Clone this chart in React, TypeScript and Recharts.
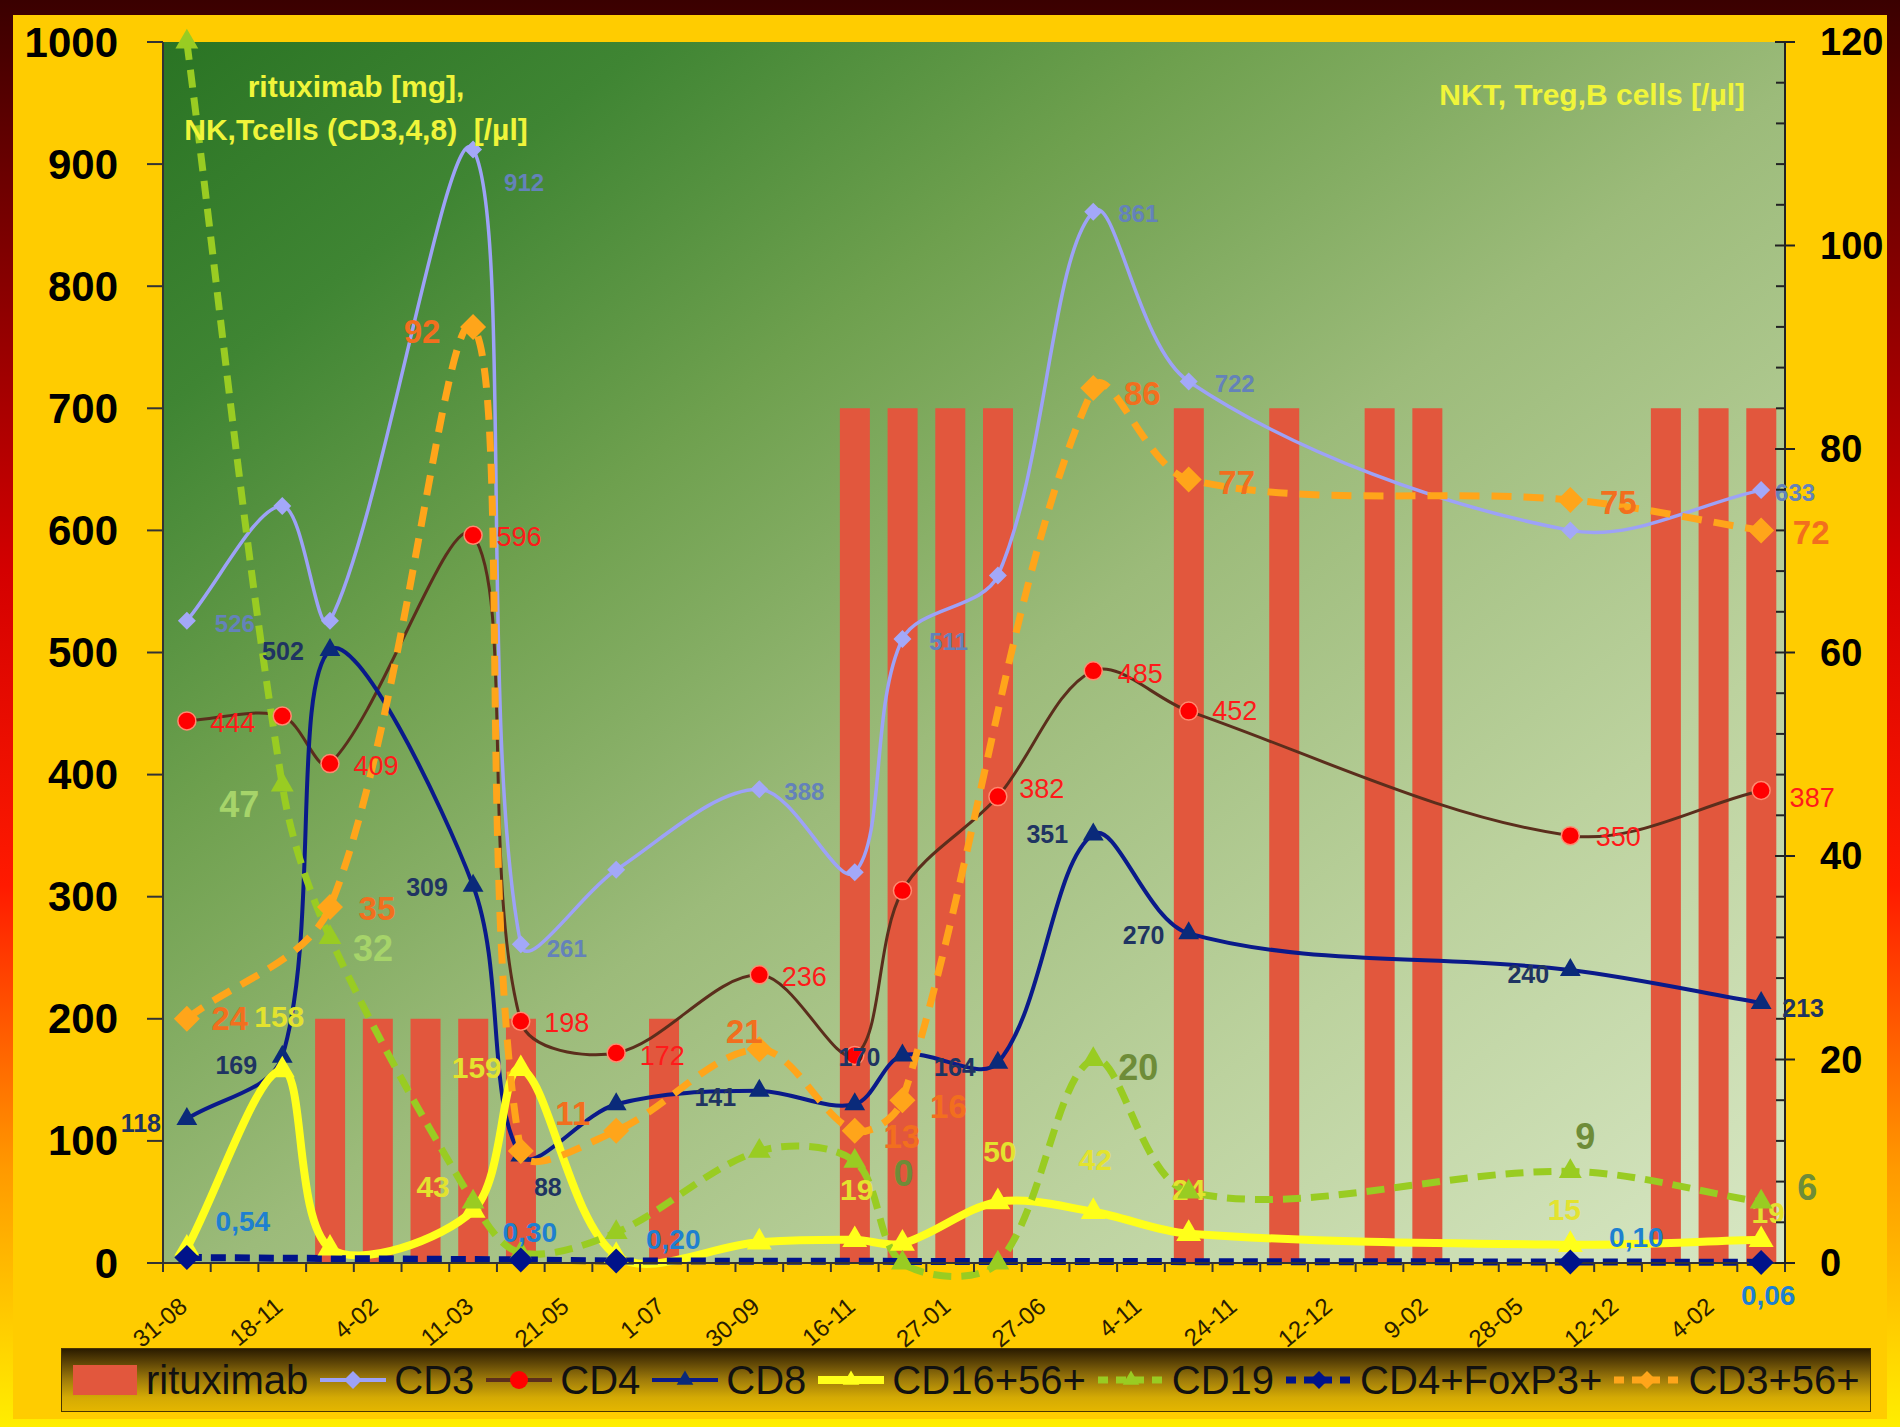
import React from 'react';
import { ComposedChart, Bar, Line, XAxis, YAxis, CartesianGrid } from 'recharts';

const N = null;

// 34 sampling slots; dates shown on every other slot
const dates = ['31-08', '', '18-11', '', '4-02', '', '11-03', '', '21-05', '', '1-07', '', '30-09', '', '16-11', '', '27-01', '', '27-06', '', '4-11', '', '24-11', '', '12-12', '', '9-02', '', '28-05', '', '12-12', '', '4-02', ''];

const rituximab = [N, N, N, 200, 200, 200, 200, 200, N, N, 200, N, N, N, 700, 700, 700, 700, N, N, N, 700, N, 700, N, 700, 700, N, N, N, N, 700, 700, 700];
const cd3 = [526, N, 620, 526, N, N, 912, 261, N, 322, N, N, 388, N, 320, 511, N, 563, N, 861, N, 722, N, N, N, N, N, N, N, 600, N, N, N, 633];
const cd4 = [444, N, 448, 409, N, N, 596, 198, N, 172, N, N, 236, N, 170, 305, N, 382, N, 485, N, 452, N, N, N, N, N, N, N, 350, N, N, N, 387];
const cd8 = [118, N, 169, 502, N, N, 309, 88, N, 130, N, N, 141, N, 130, 170, N, 164, N, 351, N, 270, N, N, N, N, N, N, N, 240, N, N, N, 213];
const cd16 = [12, N, 158, 12, N, N, 43, 159, N, 6, N, N, 17, N, 19, 16, N, 50, N, 42, N, 24, N, N, N, N, N, N, N, 15, N, N, N, 19];
const cd19 = [120, N, 47, 32, N, N, 6, 1, N, 3, N, N, 11, N, 10, 0, N, 0, N, 20, N, 7, N, N, N, N, N, N, N, 9, N, N, N, 6];
const foxp3 = [0.54, N, N, N, N, N, N, 0.3, N, 0.2, N, N, N, N, N, N, N, N, N, N, N, N, N, N, N, N, N, N, N, 0.1, N, N, N, 0.06];
const cd356 = [24, N, N, 35, N, N, 92, 11, N, 13, N, N, 21, N, 13, 16, N, N, N, 86, N, 77, N, N, N, N, N, N, N, 75, N, N, N, 72];

const leftTicks = [0, 100, 200, 300, 400, 500, 600, 700, 800, 900, 1000];
const rightTicks = [0, 4, 8, 12, 16, 20, 24, 28, 32, 36, 40, 44, 48, 52, 56, 60, 64, 68, 72, 76, 80, 84, 88, 92, 96, 100, 104, 108, 112, 116, 120];

const rows = dates.map((d, i) => ({
  slot: i,
  rituximab: rituximab[i],
  cd3: cd3[i],
  cd4: cd4[i],
  cd8: cd8[i],
  cd16: cd16[i],
  cd19: cd19[i],
  foxp3: foxp3[i],
  cd356: cd356[i],
}));

// ---- layout ----
const W = 1900;
const H = 1427;
const PLOT_L = 163;
const PLOT_R = 1785;
const PLOT_T = 42;
const BAND = (PLOT_R - PLOT_L) / dates.length;
const FONT = '"Liberation Sans", Arial, Helvetica, sans-serif';

// label placements (dx, dy, optional colour) keyed by slot
const cd3Labels = { 0: [48, 3], 6: [51, 33], 7: [46, 4], 12: [45, 2], 15: [46, 2], 19: [45, 2], 21: [46, 2], 33: [34, 2] };
const cd4Labels = { 0: [46, 2], 3: [46, 2], 6: [46, 2], 7: [46, 2], 9: [46, 3], 12: [45, 2], 17: [44, -8], 19: [47, 3], 21: [46, 0], 29: [48, 1], 33: [51, 8] };
const cd8Labels = { 0: [-46, 4], 2: [-46, 8], 3: [-47, 1], 6: [-46, 1], 7: [27, 31], 12: [-44, 6], 15: [-43, 2], 17: [-43, 4], 19: [-46, 0], 21: [-45, 2], 29: [-42, 4], 33: [42, 5] };
const cd16Labels = { 2: [-3, -54], 6: [-40, -24], 7: [-44, -1], 14: [2, -50], 17: [2, -50], 19: [2, -52], 21: [0, -44], 29: [-6, -35], 33: [7, -27] };
const cd19Labels = { 2: [-43, 20, '#A6D46A'], 3: [43, 11, '#A6D46A'], 15: [1, -90], 19: [45, 8], 29: [15, -35], 33: [46, -14] };
const foxLabels = { 0: [56, -36], 7: [9, -27], 9: [57, -21], 29: [66, -24], 33: [7, 33] };
const cd356Labels = { 0: [43, 0], 3: [47, 2], 6: [-51, 5], 7: [52, -38], 12: [-15, -18], 14: [47, 6], 15: [46, 6], 19: [49, 6], 21: [48, 3], 29: [48, 3], 33: [50, 2] };

// Excel-like smoothing curve (distance weighted Catmull-Rom bezier)
function smoothCurve(context: any) {
  let pts: number[][] = [];
  return {
    areaStart() {},
    areaEnd() {},
    lineStart() {
      pts = [];
    },
    point(x: number, y: number) {
      pts.push([+x, +y]);
    },
    lineEnd() {
      const n = pts.length;
      if (!n) return;
      context.moveTo(pts[0][0], pts[0][1]);
      if (n === 1) return;
      const dist = (a: number[], b: number[]) => Math.hypot(b[0] - a[0], b[1] - a[1]) || 1e-6;
      const outC: number[][] = [];
      const inC: number[][] = [];
      for (let i = 0; i < n; i++) {
        const p = pts[i];
        if (i === 0) {
          const q = pts[1];
          outC[i] = [p[0] + (q[0] - p[0]) / 3, p[1] + (q[1] - p[1]) / 3];
          inC[i] = p;
        } else if (i === n - 1) {
          const q = pts[n - 2];
          inC[i] = [p[0] + (q[0] - p[0]) / 3, p[1] + (q[1] - p[1]) / 3];
          outC[i] = p;
        } else {
          const a = pts[i - 1];
          const b = pts[i + 1];
          const tx = b[0] - a[0];
          const ty = b[1] - a[1];
          const dp = dist(a, p);
          const dn = dist(p, b);
          const fo = dn / (dp + dn) / 3;
          const fi = dp / (dp + dn) / 3;
          outC[i] = [p[0] + tx * fo, p[1] + ty * fo];
          inC[i] = [p[0] - tx * fi, p[1] - ty * fi];
        }
      }
      for (let i = 0; i < n - 1; i++) {
        context.bezierCurveTo(outC[i][0], outC[i][1], inC[i + 1][0], inC[i + 1][1], pts[i + 1][0], pts[i + 1][1]);
      }
    },
  };
}

function markerShape(kind: string, cx: number, cy: number, s: number, color: string, stroke?: string) {
  if (kind === 'diamond') {
    return <polygon points={`${cx},${cy - s} ${cx + s},${cy} ${cx},${cy + s} ${cx - s},${cy}`} fill={color} stroke={stroke || 'none'} strokeWidth={1} />;
  }
  if (kind === 'triangle') {
    const h = s * 1.8;
    const hb = h / Math.sqrt(3);
    return <polygon points={`${cx},${cy - (2 * h) / 3} ${cx + hb},${cy + h / 3} ${cx - hb},${cy + h / 3}`} fill={color} stroke={stroke || 'none'} strokeWidth={1} />;
  }
  return <circle cx={cx} cy={cy} r={s} fill={color} stroke={stroke || 'none'} strokeWidth={1.5} />;
}

type DotCfg = {
  kind: string;
  size: number;
  color: string;
  stroke?: string;
  labels: Record<number, any[]>;
  labelColor: string;
  fontSize: number;
  bold: boolean;
  fmt?: (v: number) => string;
};

function makeDot(cfg: DotCfg) {
  return (props: any) => {
    const { cx, cy, index, value } = props;
    const v = Array.isArray(value) ? value[1] : value;
    if (cx == null || cy == null || v == null || Number.isNaN(cy)) return <g key={`e-${index}`} />;
    const lab = cfg.labels[index];
    return (
      <g key={`d-${index}`}>
        {markerShape(cfg.kind, cx, cy, cfg.size, cfg.color, cfg.stroke)}
        {lab && (
          <text
            x={cx + lab[0]}
            y={cy + lab[1]}
            textAnchor="middle"
            dominantBaseline="central"
            fontFamily={FONT}
            fontSize={cfg.fontSize}
            fontWeight={cfg.bold ? 'bold' : 'normal'}
            fill={lab[2] || cfg.labelColor}
          >
            {cfg.fmt ? cfg.fmt(v) : String(v)}
          </text>
        )}
      </g>
    );
  };
}

const XTick = (props: any) => {
  const { x, y, payload } = props;
  const slot = Number(payload.value);
  const half = BAND / 2;
  const label = dates[slot];
  return (
    <g>
      <line x1={x - half} x2={x - half} y1={y} y2={y + 9} stroke="#333" strokeWidth={2} />
      {slot === dates.length - 1 && <line x1={x + half} x2={x + half} y1={y} y2={y + 9} stroke="#333" strokeWidth={2} />}
      {label && (
        <text x={x + 2} y={y + 46} transform={`rotate(-40, ${x + 2}, ${y + 46})`} textAnchor="end" fontFamily={FONT} fontSize={24} fill="#2a1d00">
          {label}
        </text>
      )}
    </g>
  );
};

const LeftTick = (props: any) => {
  const { x, y, payload } = props;
  return (
    <g>
      <line x1={x - 16} x2={x} y1={y} y2={y} stroke="#333" strokeWidth={2} />
      <text x={x - 45} y={y} textAnchor="end" dominantBaseline="central" fontFamily={FONT} fontSize={42} fontWeight="bold" fill="#000">
        {payload.value}
      </text>
    </g>
  );
};

const RightTick = (props: any) => {
  const { x, y, payload } = props;
  const v = Number(payload.value);
  const major = v % 20 === 0;
  return (
    <g>
      {major ? <line x1={x - 10} x2={x + 10} y1={y} y2={y} stroke="#222" strokeWidth={2} /> : <line x1={x - 9} x2={x} y1={y} y2={y} stroke="#222" strokeWidth={2} />}
      {major && (
        <text x={x + 35} y={y} textAnchor="start" dominantBaseline="central" fontFamily={FONT} fontSize={38} fontWeight="bold" fill="#000">
          {v}
        </text>
      )}
    </g>
  );
};

const legendItems = [
  { name: 'rituximab', kind: 'bar', color: '#E2573D' },
  { name: 'CD3', kind: 'line', color: '#9DA2F7', marker: 'diamond', mcolor: '#9DA2F7', w: 4, dash: '' },
  { name: 'CD4', kind: 'line', color: '#5B2E1C', marker: 'circle', mcolor: '#FF0000', w: 4, dash: '' },
  { name: 'CD8', kind: 'line', color: '#0A1A8A', marker: 'triangle', mcolor: '#0A2A7A', w: 4, dash: '' },
  { name: 'CD16+56+', kind: 'line', color: '#FFFF1A', marker: 'triangle', mcolor: '#FFFF1A', w: 8, dash: '' },
  { name: 'CD19', kind: 'line', color: '#99CC22', marker: 'triangle', mcolor: '#99CC22', w: 7, dash: '10 8' },
  { name: 'CD4+FoxP3+', kind: 'line', color: '#00138A', marker: 'diamond', mcolor: '#00138A', w: 7, dash: '10 8' },
  { name: 'CD3+56+', kind: 'line', color: '#FFA51A', marker: 'diamond', mcolor: '#FFA51A', w: 7, dash: '10 8' },
];

const LegendBox = () => (
  <div
    style={{
      position: 'absolute',
      left: 61,
      top: 1348,
      width: 1810,
      height: 64,
      boxSizing: 'border-box',
      border: '1px solid #4a3500',
      background: 'linear-gradient(180deg, #2b1c00 0%, #5e4506 22%, #a07c0a 50%, #d4aa04 78%, #e4b600 100%)',
      display: 'flex',
      alignItems: 'center',
      paddingLeft: 10,
      fontFamily: FONT,
    }}
  >
    {legendItems.map((it) => (
      <div key={it.name} style={{ display: 'flex', alignItems: 'center' }}>
        <svg width={66} height={40} style={{ marginRight: 8 }}>
          {it.kind === 'bar' ? (
            <rect x={1} y={5} width={64} height={30} fill={it.color} />
          ) : (
            <g>
              <line x1={0} x2={66} y1={20} y2={20} stroke={it.color} strokeWidth={it.w} strokeDasharray={it.dash || undefined} />
              {markerShape(it.marker as string, 33, 20, it.marker === 'triangle' ? 8 : 9, it.mcolor as string)}
            </g>
          )}
        </svg>
        <span style={{ fontSize: 40, color: '#111', lineHeight: 1, marginRight: 12, whiteSpace: 'nowrap' }}>{it.name}</span>
      </div>
    ))}
  </div>
);

export default function App() {
  return (
    <div
      style={{
        position: 'absolute',
        left: 0,
        top: 0,
        width: W,
        height: H,
        overflow: 'hidden',
        background: 'linear-gradient(180deg, #3a0000 0%, #6a0000 12%, #d40000 40%, #ff1a00 62%, #ff9a00 82%, #ffee00 100%)',
        fontFamily: FONT,
      }}
    >
      <div style={{ position: 'absolute', left: 13, top: 15, right: 13, bottom: 8, background: '#FFCC00' }} />
      <div style={{ position: 'absolute', left: 0, top: 0 }}>
        <ComposedChart width={W} height={H} data={rows} margin={{ top: PLOT_T, right: 13, bottom: 74, left: 13 }}>
          <defs>
            <linearGradient id="plotBg" x1="0" y1="0" x2="1" y2="1">
              <stop offset="0%" stopColor="#2A7424" />
              <stop offset="15%" stopColor="#3F8533" />
              <stop offset="32%" stopColor="#6EA04E" />
              <stop offset="52%" stopColor="#9CBB7A" />
              <stop offset="75%" stopColor="#BCD29E" />
              <stop offset="100%" stopColor="#D8E7C4" />
            </linearGradient>
          </defs>
          <CartesianGrid horizontal={false} vertical={false} stroke="none" fill="url(#plotBg)" />
          <XAxis
            dataKey="slot"
            type="category"
            interval={0}
            height={90}
            tickSize={0}
            tickMargin={0}
            tickLine={false}
            axisLine={{ stroke: '#333', strokeWidth: 2 }}
            tick={<XTick />}
          />
          <YAxis
            yAxisId="left"
            orientation="left"
            width={150}
            domain={[0, 1000]}
            ticks={leftTicks}
            interval={0}
            tickSize={0}
            tickMargin={0}
            tickLine={false}
            axisLine={{ stroke: '#333', strokeWidth: 2 }}
            tick={<LeftTick />}
          />
          <YAxis
            yAxisId="right"
            orientation="right"
            width={102}
            domain={[0, 120]}
            ticks={rightTicks}
            interval={0}
            tickSize={0}
            tickMargin={0}
            tickLine={false}
            axisLine={{ stroke: '#222', strokeWidth: 2 }}
            tick={<RightTick />}
          />
          <Bar yAxisId="left" dataKey="rituximab" fill="#E2573D" barSize={30} isAnimationActive={false} />
          <Line
            yAxisId="left"
            dataKey="cd3"
            type={smoothCurve as any}
            connectNulls
            stroke="#9DA2F7"
            strokeWidth={3.5}
            isAnimationActive={false}
            activeDot={false}
            dot={makeDot({ kind: 'diamond', size: 9, color: '#A3A8F8', labels: cd3Labels, labelColor: '#6482BA', fontSize: 24, bold: true })}
          />
          <Line
            yAxisId="left"
            dataKey="cd4"
            type={smoothCurve as any}
            connectNulls
            stroke="#5B2E1C"
            strokeWidth={3}
            isAnimationActive={false}
            activeDot={false}
            dot={makeDot({ kind: 'circle', size: 9, color: '#FF0000', stroke: '#ff8a70', labels: cd4Labels, labelColor: '#FF1A1A', fontSize: 27, bold: false })}
          />
          <Line
            yAxisId="left"
            dataKey="cd8"
            type={smoothCurve as any}
            connectNulls
            stroke="#0A1A8A"
            strokeWidth={4}
            isAnimationActive={false}
            activeDot={false}
            dot={makeDot({ kind: 'triangle', size: 10, color: '#0A2A7A', labels: cd8Labels, labelColor: '#1F3462', fontSize: 25, bold: true })}
          />
          <Line
            yAxisId="left"
            dataKey="cd16"
            type={smoothCurve as any}
            connectNulls
            stroke="#FFFF1A"
            strokeWidth={8}
            isAnimationActive={false}
            activeDot={false}
            dot={makeDot({ kind: 'triangle', size: 12, color: '#FFFF1A', labels: cd16Labels, labelColor: '#E3E32E', fontSize: 30, bold: true })}
          />
          <Line
            yAxisId="right"
            dataKey="cd19"
            type={smoothCurve as any}
            connectNulls
            stroke="#99CC22"
            strokeWidth={7}
            strokeDasharray="18 10"
            isAnimationActive={false}
            activeDot={false}
            dot={makeDot({ kind: 'triangle', size: 11, color: '#99CC22', labels: cd19Labels, labelColor: '#6E8C38', fontSize: 36, bold: true })}
          />
          <Line
            yAxisId="right"
            dataKey="foxp3"
            type={smoothCurve as any}
            connectNulls
            stroke="#00138A"
            strokeWidth={7}
            strokeDasharray="15 9"
            isAnimationActive={false}
            activeDot={false}
            dot={makeDot({
              kind: 'diamond',
              size: 12.5,
              color: '#00138A',
              labels: foxLabels,
              labelColor: '#1E80D0',
              fontSize: 28,
              bold: true,
              fmt: (v: number) => v.toFixed(2).replace('.', ','),
            })}
          />
          <Line
            yAxisId="right"
            dataKey="cd356"
            type={smoothCurve as any}
            connectNulls
            stroke="#FFA51A"
            strokeWidth={7}
            strokeDasharray="20 12"
            isAnimationActive={false}
            activeDot={false}
            dot={makeDot({ kind: 'diamond', size: 13, color: '#FFA51A', labels: cd356Labels, labelColor: '#F26F1E', fontSize: 33, bold: true })}
          />
        </ComposedChart>
      </div>
      <div
        style={{
          position: 'absolute',
          left: 156,
          top: 65,
          width: 400,
          textAlign: 'center',
          fontSize: 30,
          lineHeight: '43px',
          fontWeight: 'bold',
          color: '#F0F53A',
          whiteSpace: 'pre',
        }}
      >
        {'rituximab [mg],\nNK,Tcells (CD3,4,8)  [/µl]'}
      </div>
      <div
        style={{
          position: 'absolute',
          left: 1345,
          top: 73,
          width: 400,
          textAlign: 'right',
          fontSize: 30,
          lineHeight: '43px',
          fontWeight: 'bold',
          color: '#F0F53A',
          whiteSpace: 'pre',
        }}
      >
        {'NKT, Treg,B cells [/µl]'}
      </div>
      <LegendBox />
    </div>
  );
}
